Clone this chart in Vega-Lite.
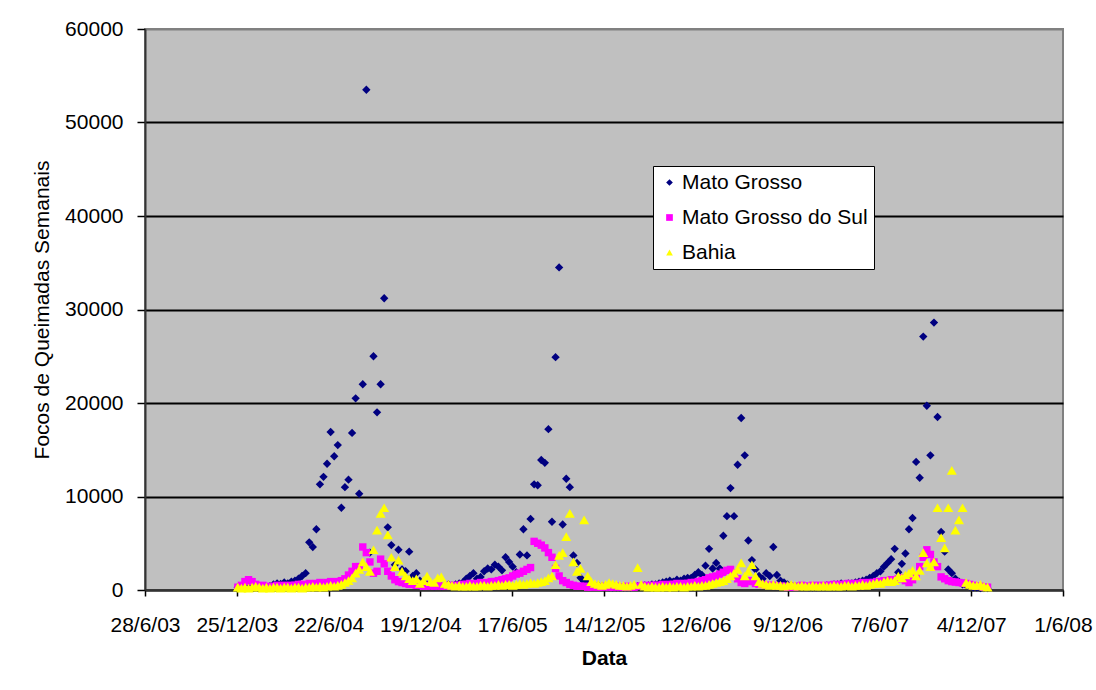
{
"$schema":"https://vega.github.io/schema/vega-lite/v6.json",
"width":918,"height":561,
"autosize":{"type":"none"},
"padding":{"left":145,"top":29,"right":33,"bottom":100},
"background":"white",
"config":{
 "view":{"fill":"#C0C0C0","stroke":"#808080","strokeWidth":2},
 "font":"Liberation Sans",
 "axis":{"labelFont":"Liberation Sans","titleFont":"Liberation Sans","labelColor":"black","titleColor":"black","labelFontSize":21,"titleFontSize":21,"domainColor":"#333333","domainWidth":2,"tickColor":"black"}
},
"data":{"values":[
{"d":"2003-12-27","MT":300,"MS":300,"BA":300},
{"d":"2004-01-03","MT":250,"MS":500,"BA":200},
{"d":"2004-01-10","MT":200,"MS":900,"BA":300},
{"d":"2004-01-17","MT":300,"MS":1100,"BA":200},
{"d":"2004-01-24","MT":350,"MS":900,"BA":300},
{"d":"2004-01-31","MT":300,"MS":600,"BA":400},
{"d":"2004-02-07","MT":400,"MS":400,"BA":300},
{"d":"2004-02-14","MT":350,"MS":500,"BA":200},
{"d":"2004-02-21","MT":300,"MS":400,"BA":300},
{"d":"2004-02-28","MT":400,"MS":300,"BA":200},
{"d":"2004-03-06","MT":600,"MS":400,"BA":300},
{"d":"2004-03-13","MT":700,"MS":500,"BA":300},
{"d":"2004-03-20","MT":650,"MS":400,"BA":200},
{"d":"2004-03-27","MT":800,"MS":500,"BA":300},
{"d":"2004-04-03","MT":700,"MS":400,"BA":300},
{"d":"2004-04-10","MT":900,"MS":500,"BA":200},
{"d":"2004-04-17","MT":1000,"MS":500,"BA":300},
{"d":"2004-04-24","MT":1200,"MS":600,"BA":300},
{"d":"2004-05-01","MT":1500,"MS":600,"BA":200},
{"d":"2004-05-08","MT":1800,"MS":500,"BA":300},
{"d":"2004-05-15","MT":5100,"MS":700,"BA":300},
{"d":"2004-05-22","MT":4600,"MS":600,"BA":400},
{"d":"2004-05-29","MT":6500,"MS":700,"BA":300},
{"d":"2004-06-05","MT":11300,"MS":800,"BA":400},
{"d":"2004-06-12","MT":12100,"MS":700,"BA":300},
{"d":"2004-06-19","MT":13500,"MS":800,"BA":400},
{"d":"2004-06-26","MT":16900,"MS":900,"BA":500},
{"d":"2004-07-03","MT":14300,"MS":800,"BA":400},
{"d":"2004-07-10","MT":15500,"MS":900,"BA":500},
{"d":"2004-07-17","MT":8800,"MS":1000,"BA":600},
{"d":"2004-07-24","MT":11000,"MS":1200,"BA":800},
{"d":"2004-07-31","MT":11800,"MS":1600,"BA":1000},
{"d":"2004-08-07","MT":16800,"MS":2000,"BA":1300},
{"d":"2004-08-14","MT":20500,"MS":2500,"BA":1800},
{"d":"2004-08-21","MT":10300,"MS":2500,"BA":2200},
{"d":"2004-08-28","MT":22000,"MS":4600,"BA":3000},
{"d":"2004-09-04","MT":53500,"MS":4000,"BA":2500},
{"d":"2004-09-11","MT":4000,"MS":3000,"BA":2000},
{"d":"2004-09-18","MT":25000,"MS":1800,"BA":4300},
{"d":"2004-09-25","MT":19000,"MS":2000,"BA":6400},
{"d":"2004-10-02","MT":22000,"MS":3300,"BA":8200},
{"d":"2004-10-09","MT":31200,"MS":2800,"BA":8800},
{"d":"2004-10-16","MT":6700,"MS":2000,"BA":5900},
{"d":"2004-10-23","MT":4800,"MS":1500,"BA":3500},
{"d":"2004-10-30","MT":2700,"MS":1100,"BA":2500},
{"d":"2004-11-06","MT":4300,"MS":900,"BA":3200},
{"d":"2004-11-13","MT":2200,"MS":800,"BA":2000},
{"d":"2004-11-20","MT":2000,"MS":700,"BA":1500},
{"d":"2004-11-27","MT":4100,"MS":600,"BA":1200},
{"d":"2004-12-04","MT":1500,"MS":600,"BA":1000},
{"d":"2004-12-11","MT":1800,"MS":500,"BA":1200},
{"d":"2004-12-18","MT":1000,"MS":500,"BA":700},
{"d":"2004-12-25","MT":800,"MS":400,"BA":1000},
{"d":"2005-01-01","MT":600,"MS":400,"BA":1500},
{"d":"2005-01-08","MT":500,"MS":500,"BA":900},
{"d":"2005-01-15","MT":400,"MS":400,"BA":800},
{"d":"2005-01-22","MT":500,"MS":500,"BA":1300},
{"d":"2005-01-29","MT":400,"MS":400,"BA":1400},
{"d":"2005-02-05","MT":500,"MS":400,"BA":700},
{"d":"2005-02-12","MT":600,"MS":500,"BA":600},
{"d":"2005-02-19","MT":500,"MS":400,"BA":500},
{"d":"2005-02-26","MT":600,"MS":500,"BA":400},
{"d":"2005-03-05","MT":700,"MS":500,"BA":500},
{"d":"2005-03-12","MT":800,"MS":600,"BA":400},
{"d":"2005-03-19","MT":1200,"MS":600,"BA":400},
{"d":"2005-03-26","MT":1500,"MS":700,"BA":500},
{"d":"2005-04-02","MT":1800,"MS":600,"BA":400},
{"d":"2005-04-09","MT":1200,"MS":700,"BA":400},
{"d":"2005-04-16","MT":1400,"MS":800,"BA":500},
{"d":"2005-04-23","MT":2000,"MS":700,"BA":500},
{"d":"2005-04-30","MT":2300,"MS":800,"BA":400},
{"d":"2005-05-07","MT":2200,"MS":900,"BA":500},
{"d":"2005-05-14","MT":2700,"MS":900,"BA":500},
{"d":"2005-05-21","MT":2500,"MS":1000,"BA":600},
{"d":"2005-05-28","MT":2100,"MS":1100,"BA":500},
{"d":"2005-06-04","MT":3500,"MS":1200,"BA":600},
{"d":"2005-06-11","MT":3000,"MS":1300,"BA":600},
{"d":"2005-06-18","MT":2500,"MS":1500,"BA":500},
{"d":"2005-06-25","MT":1900,"MS":1700,"BA":600},
{"d":"2005-07-02","MT":3800,"MS":1800,"BA":700},
{"d":"2005-07-09","MT":6500,"MS":2000,"BA":600},
{"d":"2005-07-16","MT":3700,"MS":2200,"BA":700},
{"d":"2005-07-23","MT":7600,"MS":2400,"BA":800},
{"d":"2005-07-30","MT":11300,"MS":5200,"BA":700},
{"d":"2005-08-06","MT":11200,"MS":5000,"BA":800},
{"d":"2005-08-13","MT":13900,"MS":4800,"BA":900},
{"d":"2005-08-20","MT":13600,"MS":4500,"BA":1000},
{"d":"2005-08-27","MT":17200,"MS":4000,"BA":1300},
{"d":"2005-09-03","MT":7300,"MS":3500,"BA":1500},
{"d":"2005-09-10","MT":24900,"MS":2300,"BA":2700},
{"d":"2005-09-17","MT":34500,"MS":1500,"BA":3700},
{"d":"2005-09-24","MT":7000,"MS":1000,"BA":4000},
{"d":"2005-10-01","MT":11900,"MS":800,"BA":5700},
{"d":"2005-10-08","MT":11000,"MS":600,"BA":8200},
{"d":"2005-10-15","MT":3700,"MS":500,"BA":3000},
{"d":"2005-10-22","MT":2900,"MS":400,"BA":2000},
{"d":"2005-10-29","MT":1300,"MS":400,"BA":2300},
{"d":"2005-11-05","MT":900,"MS":400,"BA":7500},
{"d":"2005-11-12","MT":700,"MS":300,"BA":1500},
{"d":"2005-11-19","MT":600,"MS":300,"BA":900},
{"d":"2005-11-26","MT":500,"MS":400,"BA":700},
{"d":"2005-12-03","MT":500,"MS":300,"BA":600},
{"d":"2005-12-10","MT":400,"MS":300,"BA":500},
{"d":"2005-12-17","MT":400,"MS":400,"BA":600},
{"d":"2005-12-24","MT":300,"MS":300,"BA":800},
{"d":"2005-12-31","MT":300,"MS":300,"BA":700},
{"d":"2006-01-07","MT":300,"MS":400,"BA":600},
{"d":"2006-01-14","MT":300,"MS":300,"BA":500},
{"d":"2006-01-21","MT":300,"MS":300,"BA":500},
{"d":"2006-01-28","MT":300,"MS":400,"BA":400},
{"d":"2006-02-04","MT":300,"MS":300,"BA":500},
{"d":"2006-02-11","MT":400,"MS":300,"BA":600},
{"d":"2006-02-18","MT":400,"MS":400,"BA":2400},
{"d":"2006-02-25","MT":400,"MS":400,"BA":600},
{"d":"2006-03-04","MT":500,"MS":500,"BA":400},
{"d":"2006-03-11","MT":500,"MS":400,"BA":300},
{"d":"2006-03-18","MT":600,"MS":500,"BA":400},
{"d":"2006-03-25","MT":600,"MS":500,"BA":300},
{"d":"2006-04-01","MT":700,"MS":500,"BA":300},
{"d":"2006-04-08","MT":800,"MS":600,"BA":400},
{"d":"2006-04-15","MT":900,"MS":500,"BA":300},
{"d":"2006-04-22","MT":1000,"MS":600,"BA":400},
{"d":"2006-04-29","MT":900,"MS":600,"BA":300},
{"d":"2006-05-06","MT":1100,"MS":700,"BA":400},
{"d":"2006-05-13","MT":1000,"MS":600,"BA":400},
{"d":"2006-05-20","MT":1200,"MS":700,"BA":300},
{"d":"2006-05-27","MT":1300,"MS":700,"BA":400},
{"d":"2006-06-03","MT":1300,"MS":800,"BA":400},
{"d":"2006-06-10","MT":1600,"MS":800,"BA":500},
{"d":"2006-06-17","MT":1900,"MS":900,"BA":400},
{"d":"2006-06-24","MT":1600,"MS":1000,"BA":500},
{"d":"2006-07-01","MT":2600,"MS":1100,"BA":500},
{"d":"2006-07-08","MT":4400,"MS":1300,"BA":600},
{"d":"2006-07-15","MT":2300,"MS":1400,"BA":700},
{"d":"2006-07-22","MT":2900,"MS":1500,"BA":800},
{"d":"2006-07-29","MT":2300,"MS":1700,"BA":900},
{"d":"2006-08-05","MT":5800,"MS":1900,"BA":1000},
{"d":"2006-08-12","MT":7900,"MS":2100,"BA":1200},
{"d":"2006-08-19","MT":10900,"MS":2200,"BA":1500},
{"d":"2006-08-26","MT":7900,"MS":1800,"BA":1800},
{"d":"2006-09-02","MT":13400,"MS":1200,"BA":2200},
{"d":"2006-09-09","MT":18400,"MS":800,"BA":2900},
{"d":"2006-09-16","MT":14400,"MS":700,"BA":1500},
{"d":"2006-09-23","MT":5300,"MS":1000,"BA":2000},
{"d":"2006-09-30","MT":3200,"MS":900,"BA":2700},
{"d":"2006-10-07","MT":2200,"MS":700,"BA":1500},
{"d":"2006-10-14","MT":1500,"MS":600,"BA":900},
{"d":"2006-10-21","MT":1200,"MS":600,"BA":700},
{"d":"2006-10-28","MT":1800,"MS":500,"BA":600},
{"d":"2006-11-04","MT":1500,"MS":500,"BA":500},
{"d":"2006-11-11","MT":4600,"MS":500,"BA":600},
{"d":"2006-11-18","MT":1600,"MS":400,"BA":500},
{"d":"2006-11-25","MT":1000,"MS":400,"BA":500},
{"d":"2006-12-02","MT":800,"MS":400,"BA":400},
{"d":"2006-12-09","MT":600,"MS":300,"BA":500},
{"d":"2006-12-16","MT":500,"MS":400,"BA":600},
{"d":"2006-12-23","MT":400,"MS":300,"BA":500},
{"d":"2006-12-30","MT":400,"MS":400,"BA":400},
{"d":"2007-01-06","MT":400,"MS":500,"BA":500},
{"d":"2007-01-13","MT":400,"MS":400,"BA":400},
{"d":"2007-01-20","MT":300,"MS":400,"BA":400},
{"d":"2007-01-27","MT":300,"MS":500,"BA":500},
{"d":"2007-02-03","MT":300,"MS":400,"BA":400},
{"d":"2007-02-10","MT":400,"MS":500,"BA":400},
{"d":"2007-02-17","MT":400,"MS":400,"BA":500},
{"d":"2007-02-24","MT":500,"MS":500,"BA":400},
{"d":"2007-03-03","MT":500,"MS":500,"BA":400},
{"d":"2007-03-10","MT":600,"MS":600,"BA":500},
{"d":"2007-03-17","MT":600,"MS":500,"BA":400},
{"d":"2007-03-24","MT":700,"MS":600,"BA":400},
{"d":"2007-03-31","MT":600,"MS":600,"BA":500},
{"d":"2007-04-07","MT":700,"MS":700,"BA":500},
{"d":"2007-04-14","MT":700,"MS":600,"BA":400},
{"d":"2007-04-21","MT":800,"MS":700,"BA":500},
{"d":"2007-04-28","MT":900,"MS":700,"BA":500},
{"d":"2007-05-05","MT":1000,"MS":800,"BA":600},
{"d":"2007-05-12","MT":1100,"MS":700,"BA":500},
{"d":"2007-05-19","MT":1300,"MS":800,"BA":600},
{"d":"2007-05-26","MT":1500,"MS":800,"BA":700},
{"d":"2007-06-02","MT":1800,"MS":900,"BA":800},
{"d":"2007-06-09","MT":2000,"MS":900,"BA":700},
{"d":"2007-06-16","MT":2500,"MS":1000,"BA":900},
{"d":"2007-06-23","MT":2900,"MS":1000,"BA":1000},
{"d":"2007-06-30","MT":3300,"MS":1100,"BA":900},
{"d":"2007-07-07","MT":4400,"MS":1100,"BA":1000},
{"d":"2007-07-14","MT":1900,"MS":1200,"BA":1500},
{"d":"2007-07-21","MT":2800,"MS":1300,"BA":1300},
{"d":"2007-07-28","MT":3900,"MS":1000,"BA":1600},
{"d":"2007-08-04","MT":6500,"MS":800,"BA":1800},
{"d":"2007-08-11","MT":7700,"MS":1100,"BA":2100},
{"d":"2007-08-18","MT":13700,"MS":1500,"BA":1500},
{"d":"2007-08-25","MT":12000,"MS":2500,"BA":2100},
{"d":"2007-09-01","MT":27100,"MS":3500,"BA":4000},
{"d":"2007-09-08","MT":19700,"MS":4300,"BA":2900},
{"d":"2007-09-15","MT":14400,"MS":3800,"BA":2500},
{"d":"2007-09-22","MT":28600,"MS":3000,"BA":3000},
{"d":"2007-09-29","MT":18500,"MS":2500,"BA":8800},
{"d":"2007-10-06","MT":6200,"MS":1400,"BA":5600},
{"d":"2007-10-13","MT":4100,"MS":1200,"BA":4500},
{"d":"2007-10-20","MT":2200,"MS":1000,"BA":8800},
{"d":"2007-10-27","MT":1800,"MS":900,"BA":12800},
{"d":"2007-11-03","MT":1200,"MS":850,"BA":6400},
{"d":"2007-11-10","MT":900,"MS":800,"BA":7500},
{"d":"2007-11-17","MT":600,"MS":750,"BA":8800},
{"d":"2007-11-24","MT":500,"MS":700,"BA":800},
{"d":"2007-12-01","MT":400,"MS":600,"BA":600},
{"d":"2007-12-08","MT":300,"MS":500,"BA":500},
{"d":"2007-12-15","MT":300,"MS":400,"BA":500},
{"d":"2007-12-22","MT":200,"MS":400,"BA":600},
{"d":"2007-12-29","MT":200,"MS":300,"BA":400},
{"d":"2008-01-05","MT":200,"MS":300,"BA":300}
]},
"encoding":{
 "x":{"field":"d","type":"temporal",
  "scale":{"type":"utc","domain":[{"year":2003,"month":6,"date":28,"utc":true},{"year":2008,"month":6,"date":1,"utc":true}]},
  "axis":{"title":"Data","titleFontWeight":"bold","format":"%-d/%-m/%y","grid":false,"tickSize":6,"tickWidth":1.5,"labelPadding":18,"titlePadding":12,"labelOverlap":false,"labelFlush":false,"labelBound":false,
   "values":[
    {"year":2003,"month":6,"date":28,"utc":true},
    {"year":2003,"month":12,"date":25,"utc":true},
    {"year":2004,"month":6,"date":22,"utc":true},
    {"year":2004,"month":12,"date":19,"utc":true},
    {"year":2005,"month":6,"date":17,"utc":true},
    {"year":2005,"month":12,"date":14,"utc":true},
    {"year":2006,"month":6,"date":12,"utc":true},
    {"year":2006,"month":12,"date":9,"utc":true},
    {"year":2007,"month":6,"date":7,"utc":true},
    {"year":2007,"month":12,"date":4,"utc":true},
    {"year":2008,"month":6,"date":1,"utc":true}]}}
},
"layer":[
 {"mark":{"type":"point","filled":true,"opacity":1,"size":70,"strokeWidth":0},
  "encoding":{
   "y":{"field":"MT","type":"quantitative","title":"Focos de Queimadas Semanais","scale":{"domain":[0,60000]},
    "axis":{"values":[0,10000,20000,30000,40000,50000,60000],"format":"d","grid":true,"gridColor":{"condition":{"test":"datum.value == 60000","value":"#808080"},"value":"black"},"gridWidth":2,"tickSize":8,"tickWidth":1.5,"labelPadding":14,"titlePadding":12,"titleFontWeight":"normal"}},
   "color":{"datum":"Mato Grosso","type":"nominal","scale":{"domain":["Mato Grosso","Mato Grosso do Sul","Bahia"],"range":["#000080","#FF00FF","#FFFF00"]},
    "legend":{"title":null,"orient":"none","legendX":508,"legendY":137,"fillColor":"white","strokeColor":"black","padding":6,"labelFontSize":21,"labelFont":"Liberation Sans","labelColor":"black","labelLimit":400,"symbolSize":45,"rowPadding":13,"labelOffset":2,"symbolStrokeWidth":0}},
   "shape":{"datum":"Mato Grosso","type":"nominal","scale":{"domain":["Mato Grosso","Mato Grosso do Sul","Bahia"],"range":["diamond","square","triangle-up"]},
    "legend":{"title":null,"orient":"none","legendX":508,"legendY":137,"fillColor":"white","strokeColor":"black","padding":6,"labelFontSize":21,"labelFont":"Liberation Sans","labelColor":"black","labelLimit":400,"symbolSize":45,"rowPadding":13,"labelOffset":2,"symbolStrokeWidth":0}}
  }},
 {"mark":{"type":"point","filled":true,"opacity":1,"size":55,"strokeWidth":0},
  "encoding":{
   "y":{"field":"MS","type":"quantitative","title":"Focos de Queimadas Semanais"},
   "color":{"datum":"Mato Grosso do Sul","type":"nominal"},
   "shape":{"datum":"Mato Grosso do Sul","type":"nominal"}
  }},
 {"mark":{"type":"point","filled":true,"opacity":1,"size":100,"strokeWidth":0},
  "encoding":{
   "y":{"field":"BA","type":"quantitative","title":"Focos de Queimadas Semanais"},
   "color":{"datum":"Bahia","type":"nominal"},
   "shape":{"datum":"Bahia","type":"nominal"}
  }}
]
}
